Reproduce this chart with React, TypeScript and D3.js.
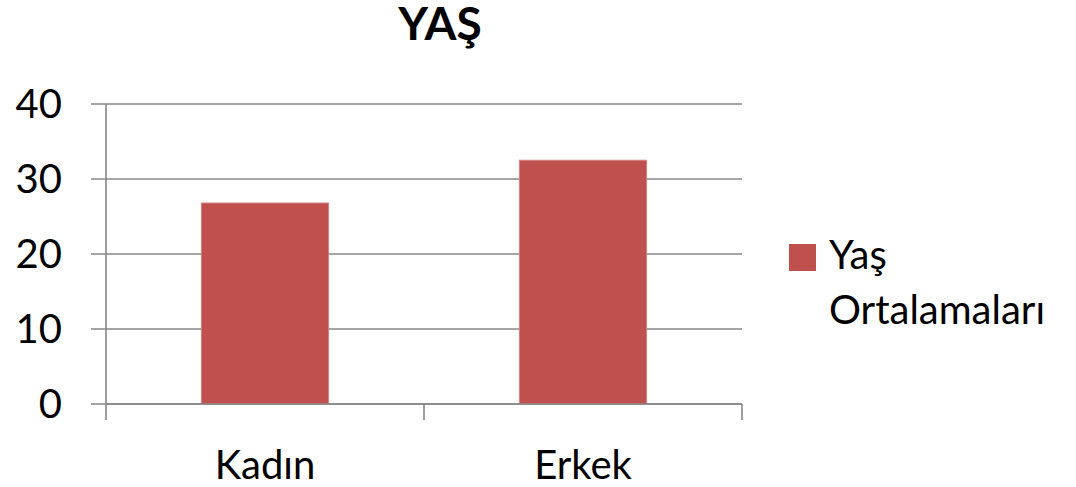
import React from 'react';
import * as d3 from 'd3';

// Chart data
const categories = ['Kadın', 'Erkek'];
const values = [26.8, 32.5];
const yTicks = [0, 10, 20, 30, 40];
const seriesName = ['Yaş', 'Ortalamaları'];
const title = 'YAŞ';

const W = 1076;
const H = 487;
const FONT = "Lato, 'Open Sans', sans-serif";
const BAR = '#C0504D';
const GRID = '#878787';

const plot = { left: 106, right: 742, top: 104, bottom: 404 };

export default function App() {
    const x = d3.scaleBand<string>()
        .domain(categories)
        .range([plot.left, plot.right])
        .paddingInner(0.6)
        .paddingOuter(0.3);
    const y = d3.scaleLinear().domain([0, 40]).range([plot.bottom, plot.top]);

    // category boundaries for bottom tick marks
    const step = (plot.right - plot.left) / categories.length;
    const catEdges = d3.range(categories.length + 1).map(i => plot.left + i * step);

    return (
        <div style={{ position: 'absolute', left: 0, top: 0 }}>
            <svg width={W} height={H} style={{ display: 'block', background: '#fff' }}>
                <text x={440} y={40} textAnchor="middle" fontFamily={FONT}
                    fontWeight={700} fontSize={46} fill="#000">{title}</text>

                {/* gridlines + left ticks */}
                {yTicks.map(t => (
                    <g key={t}>
                        <line x1={plot.left - 15} x2={plot.right} y1={y(t)} y2={y(t)}
                            stroke={GRID} strokeWidth={1.6} />
                        <text x={62} y={y(t)} dy="0.36em" textAnchor="end"
                            fontFamily={FONT} fontSize={40} fill="#000">{t}</text>
                    </g>
                ))}

                {/* bars */}
                {categories.map((c, i) => (
                    <rect key={c} x={x(c)} y={y(values[i])} width={x.bandwidth()}
                        height={y(0) - y(values[i])} fill={BAR}
                        stroke="#d48482" strokeWidth={1} />
                ))}

                {/* axes */}
                <line x1={plot.left} x2={plot.left} y1={plot.top} y2={plot.bottom}
                    stroke={GRID} strokeWidth={1.6} />
                <line x1={plot.left} x2={plot.right} y1={plot.bottom} y2={plot.bottom}
                    stroke={GRID} strokeWidth={1.6} />
                {catEdges.map((e, i) => (
                    <line key={i} x1={e} x2={e} y1={plot.bottom} y2={plot.bottom + 16}
                        stroke={GRID} strokeWidth={1.6} />
                ))}
                {categories.map(c => (
                    <text key={c} x={(x(c) ?? 0) + x.bandwidth() / 2} y={479}
                        textAnchor="middle" fontFamily={FONT} fontSize={40} fill="#000">{c}</text>
                ))}

                {/* legend */}
                <rect x={789} y={244} width={27} height={27} fill={BAR} />
                <text fontFamily={FONT} fontSize={40} fill="#000">
                    <tspan x={829} y={269}>{seriesName[0]}</tspan>
                    <tspan x={829} y={324}>{seriesName[1]}</tspan>
                </text>
            </svg>
        </div>
    );
}
